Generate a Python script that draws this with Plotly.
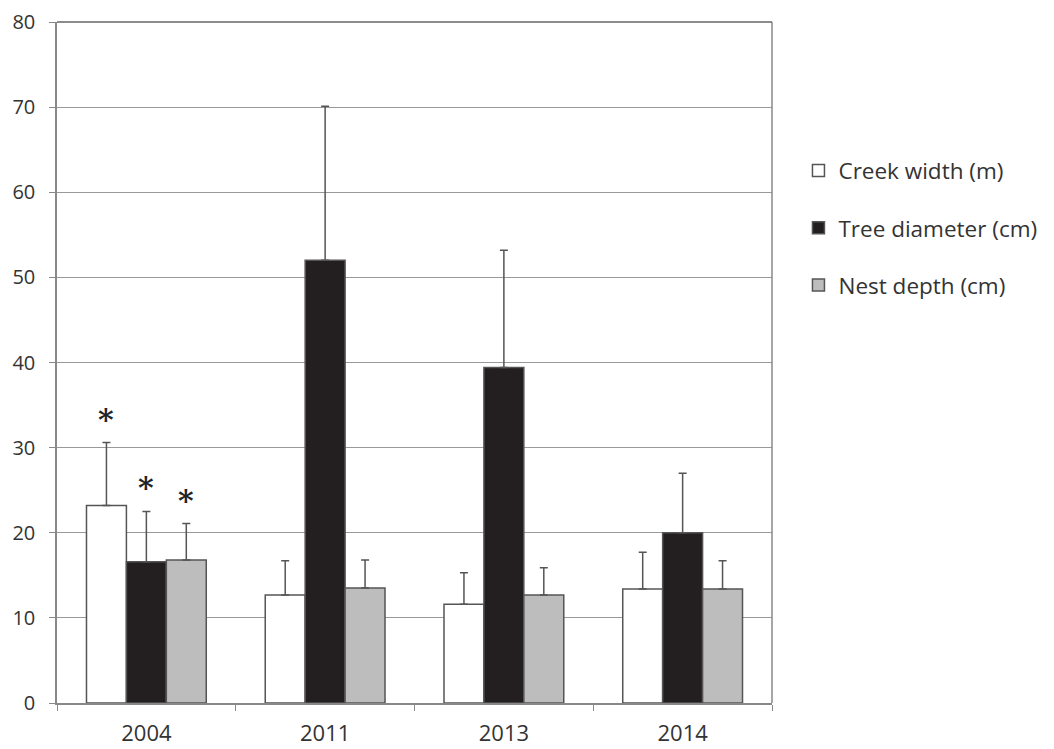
import plotly.graph_objects as go

years = ["2004", "2011", "2013", "2014"]
creek = [23.2, 12.7, 11.6, 13.4]
creek_err_top = [30.6, 16.7, 15.3, 17.7]
tree = [16.6, 52.0, 39.4, 20.0]
tree_err_top = [22.5, 70.1, 53.2, 27.0]
nest = [16.8, 13.5, 12.7, 13.4]
nest_err_top = [21.1, 16.8, 15.9, 16.7]
series_names = ["Creek width (m)", "Tree diameter (cm)", "Nest depth (cm)"]
star_y = [33.3, 25.3, 23.8]

fills = ["#ffffff", "#231f20", "#bdbdbd"]
bargap = 0.33
w = (1 - bargap) / 3

fig = go.Figure()
for i, (name, vals, tops, col) in enumerate(zip(series_names, [creek, tree, nest],
                                                [creek_err_top, tree_err_top, nest_err_top], fills)):
    fig.add_trace(go.Bar(
        x=years, y=vals, name=name, legendgroup=name,
        marker=dict(color=col, line=dict(color="#555555", width=1.5)),
        error_y=dict(type="data", symmetric=False,
                     array=[t - v for t, v in zip(tops, vals)],
                     arrayminus=[0] * len(vals),
                     color="#555555", thickness=1.5, width=4),
    ))

for i in range(3):
    fig.add_annotation(x=(i - 1) * w, y=star_y[i], xref="x", yref="y", text="<b>*</b>",
                       showarrow=False, font=dict(family="DejaVu Serif", size=30, color="#222222"))

fig.update_layout(
    width=1054, height=749,
    margin=dict(l=57, r=282, t=22, b=46, autoexpand=False),
    paper_bgcolor="white", plot_bgcolor="white",
    barmode="group", bargap=bargap, bargroupgap=0,
    font=dict(family="Open Sans", size=20, color="#333333"),
    legend=dict(x=1.037, y=0.813, xanchor="left", yanchor="top",
                font=dict(size=22.5, color="#333333"), tracegroupgap=25,
                traceorder="grouped", itemwidth=30),
    xaxis=dict(type="category", showline=True, linecolor="#888888", linewidth=1.5,
               ticks="outside", tickson="boundaries", ticklen=6, tickcolor="#888888",
               mirror=False, showgrid=False, tickfont=dict(size=22), ticklabelstandoff=10,
               automargin=False),
    yaxis=dict(range=[0, 80], dtick=10, showline=True, linecolor="#888888", linewidth=1.5,
               ticks="outside", ticklen=6, tickcolor="#888888", gridcolor="#999999",
               gridwidth=1.3, zeroline=False, tickfont=dict(size=20), ticklabelstandoff=10,
               automargin=False),
)
fig.add_shape(type="line", xref="paper", yref="paper", x0=1, x1=1, y0=0, y1=1,
              line=dict(color="#888888", width=1.5))
fig.add_shape(type="line", xref="paper", yref="paper", x0=0, x1=1, y0=1, y1=1,
              line=dict(color="#666666", width=1.5))

fig.write_html("out.html")
